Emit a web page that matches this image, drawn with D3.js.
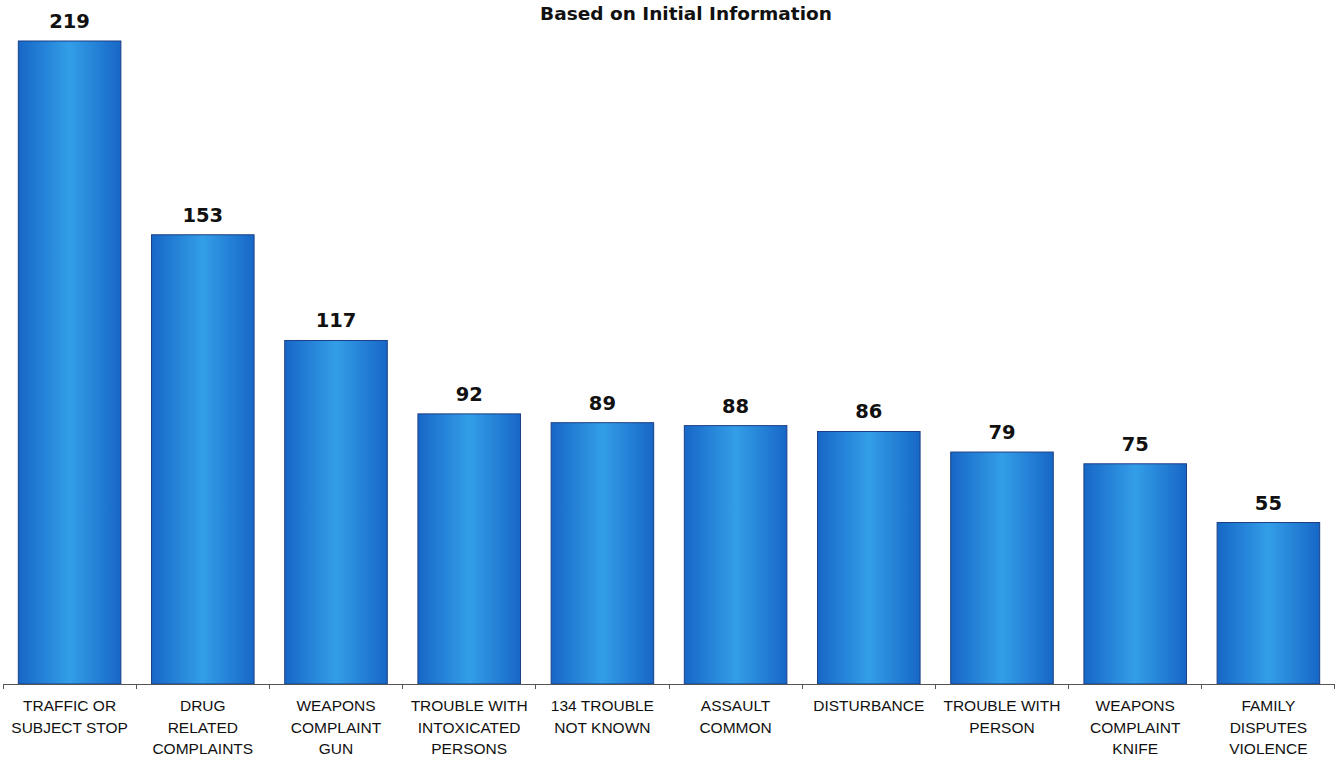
<!DOCTYPE html>
<html lang="en">
<head>
    <meta charset="utf-8">
    <title>Based on Initial Information</title>
    <style>
        body { margin: 0; background: #fff; }
        .axis path, .axis line { fill: none; stroke: #555; shape-rendering: crispEdges; }
        .cat { font-family: "Liberation Sans", Arial, sans-serif; font-size: 15.5px; fill: #111; }
        .val { font-family: "DejaVu Sans", Verdana, sans-serif; font-weight: bold; font-size: 19.5px; fill: #111; }
        .title { font-family: "DejaVu Sans", Verdana, sans-serif; font-weight: bold; font-size: 18.5px; fill: #111; }
    </style>
</head>
<body>
<svg width="1340" height="759"></svg>
<script src="https://cdn.jsdelivr.net/npm/d3@7/dist/d3.min.js"></script>
<script>
    // data
    const categories = [
        ["TRAFFIC OR", "SUBJECT STOP"],
        ["DRUG", "RELATED", "COMPLAINTS"],
        ["WEAPONS", "COMPLAINT", "GUN"],
        ["TROUBLE WITH", "INTOXICATED", "PERSONS"],
        ["134 TROUBLE", "NOT KNOWN"],
        ["ASSAULT", "COMMON"],
        ["DISTURBANCE"],
        ["TROUBLE WITH", "PERSON"],
        ["WEAPONS", "COMPLAINT", "KNIFE"],
        ["FAMILY", "DISPUTES", "VIOLENCE"]
    ];
    const values = [219, 153, 117, 92, 89, 88, 86, 79, 75, 55];
    const title = "Based on Initial Information";

    const baseY = 684;
    const svg = d3.select("svg");

    const x = d3.scaleBand()
        .domain(d3.range(values.length))
        .range([5, 1333])
        .paddingInner(0.23)
        .paddingOuter(0.1);

    const y = d3.scaleLinear().domain([0, 219]).range([baseY, 41]);

    // gradient for the bars
    const grad = svg.append("defs").append("linearGradient")
        .attr("id", "barGrad")
        .attr("x1", "0%").attr("x2", "100%").attr("y1", "0%").attr("y2", "0%");
    grad.append("stop").attr("offset", "0%").attr("stop-color", "#1767c6");
    grad.append("stop").attr("offset", "50%").attr("stop-color", "#339ee8");
    grad.append("stop").attr("offset", "100%").attr("stop-color", "#1767c6");

    svg.append("text")
        .attr("class", "title")
        .attr("x", 686)
        .attr("y", 20)
        .attr("text-anchor", "middle")
        .text(title);

    svg.selectAll(".bar")
        .data(values)
        .enter()
        .append("rect")
        .attr("class", "bar")
        .attr("x", (d, i) => x(i))
        .attr("width", x.bandwidth())
        .attr("y", d => y(d))
        .attr("height", d => baseY - y(d))
        .attr("fill", "url(#barGrad)")
        .attr("stroke", "#1b3f86")
        .attr("stroke-width", 1);

    svg.selectAll(".val")
        .data(values)
        .enter()
        .append("text")
        .attr("class", "val")
        .attr("x", (d, i) => x(i) + x.bandwidth() / 2)
        .attr("y", d => y(d) - 13)
        .attr("text-anchor", "middle")
        .text(d => d);

    // x axis, ticks between categories
    const step = x.step();
    const edges = d3.range(values.length + 1).map(i => x(0) - step * x.paddingInner() / 2 + i * step);
    const axis = svg.append("g").attr("class", "axis");
    axis.append("path").attr("d", "M" + edges[0] + "," + baseY + "H" + edges[edges.length - 1]);
    axis.selectAll("line")
        .data(edges)
        .enter()
        .append("line")
        .attr("x1", d => d).attr("x2", d => d)
        .attr("y1", baseY).attr("y2", baseY + 5);

    const labels = svg.selectAll(".cat")
        .data(categories)
        .enter()
        .append("text")
        .attr("class", "cat")
        .attr("text-anchor", "middle")
        .attr("x", (d, i) => x(i) + x.bandwidth() / 2)
        .attr("y", 711);
    labels.selectAll("tspan")
        .data((d, i) => d.map(t => ({t: t, i: i})))
        .enter()
        .append("tspan")
        .attr("x", d => x(d.i) + x.bandwidth() / 2)
        .attr("dy", (d, j) => j === 0 ? 0 : 21.5)
        .text(d => d.t);
</script>
</body>
</html>
